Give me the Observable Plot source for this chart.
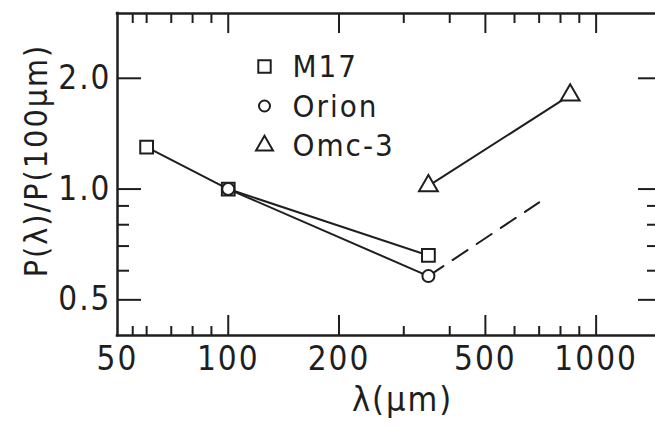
<!DOCTYPE html>
<html>
<head>
<meta charset="utf-8">
<script src="https://cdn.jsdelivr.net/npm/d3@7"></script>
<script src="https://cdn.jsdelivr.net/npm/@observablehq/plot@0.6"></script>
<style>
  html, body { margin: 0; padding: 0; background: #fff; }
  #chart svg { display: block; }
  #chart text { letter-spacing: 2px; }
  g[aria-label="x-title"] text { letter-spacing: 5px; }
  g[aria-label="y-title"] text { letter-spacing: 2px; }
</style>
</head>
<body>
<div id="chart"></div>
<script>
// Polarization ratio P(λ)/P(100 μm) against wavelength, log–log.
const m17Wavelength = [60, 100, 350];
const m17Ratio = [1.3, 1.0, 0.66];

const orionWavelength = [100, 350];
const orionRatio = [1.0, 0.58];

// dashed continuation of the Orion trend
const orionExtWavelength = [350, 700];
const orionExtRatio = [0.58, 0.92];

const omcWavelength = [350, 850];
const omcRatio = [1.02, 1.8];

const seriesNames = ["M17", "Orion", "Omc-3"];
const seriesSymbols = ["square", "circle", "triangle"];

const xTickLabels = [50, 100, 200, 500, 1000];
const yTickLabels = [0.5, 1.0, 2.0];
const xMajorTicks = [100, 200, 500, 1000];
const xMinorTicks = [55, 60, 70, 80, 90, 300, 400, 600, 700, 800, 900];
const yMajorTicks = [0.5, 1.0, 2.0];
const yMinorTicks = [0.6, 0.7, 0.8, 0.9];

const xTitle = "λ(μm)";
const yTitle = "P(λ)/P(100μm)";

const xDomain = [50, 1450];
const yDomain = [0.4, 3.0];

const rows = (xs, ys) => xs.map((x, i) => ({wavelength: x, ratio: ys[i]}));
const m17 = rows(m17Wavelength, m17Ratio);
const orion = rows(orionWavelength, orionRatio);
const orionExt = rows(orionExtWavelength, orionExtRatio);
const omc = rows(omcWavelength, omcRatio);

const W = 655, H = 435;
const mL = 117, mR = 0, mT = 13, mB = 100;
const frameW = W - mL - mR;
const frameH = H - mT - mB;

const ink = "#1e1e1e";
const font = "'Liberation Sans Narrow', 'DejaVu Sans Condensed', 'Liberation Sans', sans-serif";

const lineOpts = {x: "wavelength", y: "ratio", stroke: ink, strokeWidth: 2};
const dotOpts = {x: "wavelength", y: "ratio", stroke: ink, strokeWidth: 2, fill: "white"};
const tickOpts = {stroke: ink, strokeWidth: 2};

const legendMarks = seriesNames.flatMap((name, i) => [
  Plot.dot([name], {
    x: null, y: null, frameAnchor: "top-left",
    dx: 147, dy: 53 + i * 39.5,
    symbol: seriesSymbols[i],
    r: seriesSymbols[i] === "triangle" ? 6.3 : seriesSymbols[i] === "square" ? 7 : 5.5,
    stroke: ink, strokeWidth: 2, fill: "white"
  }),
  Plot.text([name], {
    x: null, y: null, frameAnchor: "top-left",
    dx: 175, dy: 54 + i * 39.5,
    text: d => d, textAnchor: "start", lineAnchor: "middle",
    fontSize: 31, fill: ink
  })
]);

const chart = Plot.plot({
  width: W,
  height: H,
  marginLeft: mL,
  marginRight: mR,
  marginTop: mT,
  marginBottom: mB,
  x: {type: "log", domain: xDomain},
  y: {type: "log", domain: yDomain},
  style: {fontFamily: font, color: ink, background: "white"},
  marks: [
    // frame: top, bottom and left edges
    Plot.ruleY(yDomain, {stroke: ink, strokeWidth: 2.5, strokeLinecap: "square"}),
    Plot.ruleX([xDomain[0]], {stroke: ink, strokeWidth: 2.5, strokeLinecap: "square"}),

    // inward ticks, bottom and top
    Plot.ruleX(xMajorTicks, {...tickOpts, insetTop: frameH - 20}),
    Plot.ruleX(xMinorTicks, {...tickOpts, insetTop: frameH - 9}),
    Plot.ruleX(xMajorTicks, {...tickOpts, insetBottom: frameH - 20}),
    Plot.ruleX(xMinorTicks, {...tickOpts, insetBottom: frameH - 10}),

    // inward ticks, left and right
    Plot.ruleY(yMajorTicks, {...tickOpts, insetRight: frameW - 24}),
    Plot.ruleY(yMinorTicks, {...tickOpts, insetRight: frameW - 12}),
    Plot.ruleY(yMajorTicks, {...tickOpts, insetLeft: frameW - 17}),
    Plot.ruleY(yMinorTicks, {...tickOpts, insetLeft: frameW - 8}),

    Plot.axisX({
      ticks: xTickLabels, tickSize: 0, tickPadding: 11,
      tickFormat: d => String(d), fontSize: 33, label: null, fill: ink
    }),
    Plot.axisY({
      ticks: yTickLabels, tickSize: 0, tickPadding: 6,
      tickFormat: d => d.toFixed(1), fontSize: 33, label: null, fill: ink
    }),

    // series
    Plot.line(m17, lineOpts),
    Plot.line(orion, lineOpts),
    Plot.line(orionExt, {...lineOpts, strokeDasharray: "18,11"}),
    Plot.line(omc, lineOpts),
    Plot.dot(m17, {...dotOpts, symbol: "square", r: 7.2}),
    Plot.dot(orion, {...dotOpts, symbol: "circle", r: 6}),
    Plot.dot(omc, {...dotOpts, symbol: "triangle", r: 7}),

    ...legendMarks,

    // axis titles
    Plot.text([xTitle], {
      x: null, y: null, frameAnchor: "bottom", dx: 16, dy: 65,
      text: d => d, textAnchor: "middle", lineAnchor: "middle",
      fontSize: 34, fill: ink, ariaLabel: "x-title"
    }),
    Plot.text([yTitle], {
      x: null, y: null, frameAnchor: "left", dx: -81, dy: -14, rotate: -90,
      text: d => d, textAnchor: "middle", lineAnchor: "middle",
      fontSize: 32, fill: ink, ariaLabel: "y-title"
    })
  ]
});

document.getElementById("chart").appendChild(chart);
</script>
</body>
</html>
